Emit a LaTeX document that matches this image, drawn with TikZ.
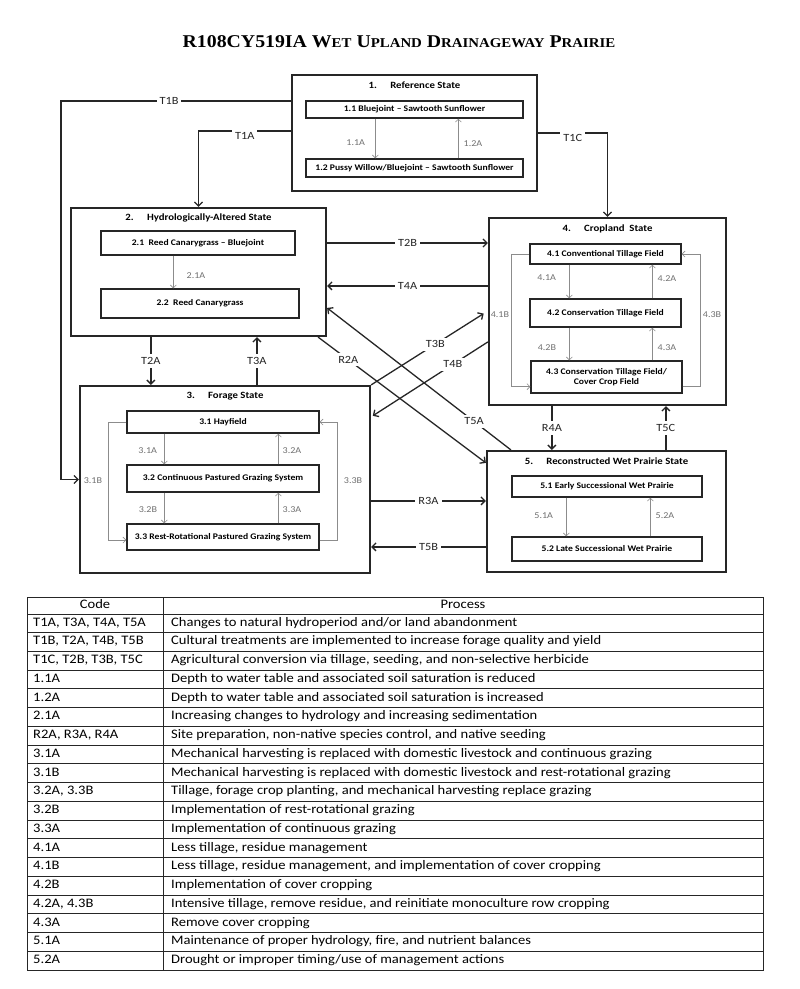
\documentclass[tikz,border=0pt]{standalone}
\usepackage{fontspec}
\setmainfont{Carlito}[FakeStretch=1.12]
\newfontfamily\titlefont{Liberation Serif}[FakeStretch=1.1]
\usetikzlibrary{arrows.meta,positioning,calc}
\definecolor{frame}{HTML}{262626}
\definecolor{thin}{HTML}{8C8C8C}
\definecolor{thintext}{HTML}{707070}
\newcommand{\fakesc}[1]{{\fontsize{13.5}{15}\selectfont #1}}
\tikzset{
  font=\fontsize{11}{13}\selectfont,
  statebox/.style={
    draw=frame,
    line width=2.2pt,
    inner sep=0pt
  },
  sub/.style={
    draw=frame,
    line width=1.3pt,
    align=center,
    inner sep=1pt,
    font=\fontsize{8.6}{10}\selectfont\bfseries
  },
  head/.style={
    inner sep=0pt,
    font=\fontsize{9.6}{11}\selectfont\bfseries
  },
  arrow/.style={-{Straight Barb[length=4pt,width=8pt]}, line width=1.3pt, draw=frame},
  inarrow/.style={-{Straight Barb[length=3pt,width=6pt]}, line width=0.6pt, draw=thin},
  tlabel/.style={fill=white, inner sep=3pt, text=frame},
  ilabel/.style={inner sep=1pt, font=\fontsize{9}{10}\selectfont, text=thintext},
  cell/.style={anchor=west, inner sep=0pt, text height=8.5pt, text depth=2.8pt, font=\fontsize{13}{15}\selectfont},
  tabline/.style={draw=frame, line width=1pt}
}

\begin{document}
\begin{tikzpicture}[x=1pt, y=-1pt]
\useasboundingbox (0,0) rectangle (800,989);

% --- Title
\node[font=\titlefont\bfseries\fontsize{18}{21}\selectfont] (title) at (399,42)
  {R108CY519IA W\fakesc{ET} U\fakesc{PLAND} D\fakesc{RAINAGEWAY} P\fakesc{RAIRIE}};

% --- State frames
\node[statebox, minimum width=245pt, minimum height=116pt] (ref) at (414.5,133) {};
\node[statebox, minimum width=255pt, minimum height=128pt] (hydro) at (198.5,272) {};
\node[statebox, minimum width=290pt, minimum height=187pt] (forage) at (225,479.5) {};
\node[statebox, minimum width=237pt, minimum height=187pt] (crop) at (607.5,311.5) {};
\node[statebox, minimum width=239pt, minimum height=121pt] (prairie) at (606.5,511.5) {};

\node[head] (reftitle) at ($(ref.north)+(0,11)$) {1.\hspace{10pt} Reference State};
\node[head] (hydrotitle) at ($(hydro.north)+(0,11)$) {2.\hspace{10pt} Hydrologically-Altered State};
\node[head] (foragetitle) at ($(forage.north)+(0,11)$) {3.\hspace{10pt} Forage State};
\node[head] (croptitle) at ($(crop.north)+(0,12)$) {4.\hspace{10pt} Cropland\ \ State};
\node[head] (prairietitle) at ($(prairie.north)+(0,11)$) {5.\hspace{10pt} Reconstructed Wet Prairie State};

% --- Community phases
\node[sub, minimum width=217pt, minimum height=17pt] (ref1) at (414.5,109.5) {1.1 Bluejoint -- Sawtooth Sunflower};
\node[sub, minimum width=217pt, minimum height=18pt] (ref2) at (414.5,168) {1.2 Pussy Willow/Bluejoint -- Sawtooth Sunflower};

\node[sub, minimum width=194pt, minimum height=24pt] (hydro1) at (198,243) {2.1\ \ Reed Canarygrass -- Bluejoint};
\node[sub, minimum width=198pt, minimum height=29pt] (hydro2) at (200,303.5) {2.2\ \ Reed Canarygrass};

\node[sub, minimum width=192pt, minimum height=22pt] (forage1) at (223,422) {3.1 Hayfield};
\node[sub, minimum width=192pt, minimum height=27pt] (forage2) at (223,478.5) {3.2 Continuous Pastured Grazing System};
\node[sub, minimum width=192pt, minimum height=26pt] (forage3) at (223,537) {3.3 Rest-Rotational Pastured Grazing System};

\node[sub, minimum width=151pt, minimum height=20pt] (crop1) at (605.5,254) {4.1 Conventional Tillage Field};
\node[sub, minimum width=151pt, minimum height=28pt] (crop2) at (605.5,313) {4.2 Conservation Tillage Field};
\node[sub, minimum width=151pt, minimum height=32pt] (crop3) at (606.5,377) {4.3 Conservation Tillage Field/\\Cover Crop Field};

\node[sub, minimum width=190pt, minimum height=21pt] (prairie1) at (607,486.5) {5.1 Early Successional Wet Prairie};
\node[sub, minimum width=190pt, minimum height=24pt] (prairie2) at (607,549) {5.2 Late Successional Wet Prairie};

% --- Transitions between states
\draw[arrow] ($(ref.north west)+(0,27)$) -- node[tlabel, pos=.53] {T1B} ++(-230,0) |- (forage.west);
\draw[arrow] ($(ref.north west)+(0,57)$) -| node[tlabel, pos=.25, yshift=-5pt] {T1A} (hydro.north);
\draw[arrow] (ref.east) -| node[tlabel, pos=.25, yshift=-5pt] {T1C} (crop.north);

\draw[arrow] (hydro.east |- hydro1) -- node[tlabel] {T2B} (crop.west |- hydro1);
\coordinate (t4a) at ($(crop.north west)+(0,69)$);
\draw[arrow] (t4a) -- node[tlabel] {T4A} (hydro.east |- t4a);

\coordinate (t2a) at ($(hydro.south west)+(81,0)$);
\draw[arrow] (t2a) -- node[tlabel] {T2A} (forage.north -| t2a);
\coordinate (t3a) at ($(forage.north west)+(178,0)$);
\draw[arrow] (t3a) -- node[tlabel] {T3A} (hydro.south -| t3a);

\draw[arrow, shorten >=5pt] (forage.north east) -- node[tlabel, pos=.55] {T3B} ($(crop.north west)+(0,94)$);
\draw[arrow, shorten >=2pt] ($(crop.north west)+(0,125)$) -- node[tlabel, pos=.3] {T4B} ($(forage.north east)+(0,32)$);
\draw[arrow] ($(hydro.south east)+(-9,0)$) -- node[tlabel, pos=.18] {R2A} ($(prairie.north west)+(0,13)$);
\draw[arrow] ($(prairie.north west)+(25,0)$) -- node[tlabel, pos=.2] {T5A} ($(hydro.north east)+(0,101)$);

\coordinate (r3a) at ($(forage.north east)+(0,116)$);
\draw[arrow] (r3a) -- node[tlabel] {R3A} (prairie.west |- r3a);
\coordinate (t5b) at ($(prairie.north west)+(0,97)$);
\draw[arrow] (t5b) -- node[tlabel] {T5B} (forage.east |- t5b);

\coordinate (r4a) at ($(crop.south west)+(64,0)$);
\draw[arrow] (r4a) -- node[tlabel] {R4A} (prairie.north -| r4a);
\coordinate (t5c) at ($(prairie.north west)+(180,0)$);
\draw[arrow] (t5c) -- node[tlabel] {T5C} (crop.south -| t5c);

% --- Community pathways
\coordinate (i11) at ($(ref1.south west)+(70,0)$);
\coordinate (i12) at ($(ref1.south west)+(153,0)$);
\draw[inarrow] (i11) -- node[ilabel, left=9pt, pos=.6] {1.1A} (ref2.north -| i11);
\draw[inarrow] (ref2.north -| i12) -- node[ilabel, right=4pt, pos=.37] {1.2A} (i12);

\coordinate (i21) at ($(hydro1.south west)+(73,0)$);
\draw[inarrow] (i21) -- node[ilabel, right=12pt, pos=.6] {2.1A} (hydro2.north -| i21);

\coordinate (i31) at ($(forage1.south west)+(38,0)$);
\coordinate (i32) at ($(forage1.south west)+(152,0)$);
\draw[inarrow] (i31) -- node[ilabel, left=6pt, pos=.55] {3.1A} (forage2.north -| i31);
\draw[inarrow] (forage2.north -| i32) -- node[ilabel, right=3pt, pos=.45] {3.2A} (i32);
\draw[inarrow] (forage2.south -| i31) -- node[ilabel, left=6pt, pos=.55] {3.2B} (forage3.north -| i31);
\draw[inarrow] (forage3.north -| i32) -- node[ilabel, right=3pt, pos=.45] {3.3A} (forage2.south -| i32);
\draw[inarrow] (forage1.west) -- ++(-18,0) |- node[ilabel, left=5pt, pos=.25] {3.1B} ($(forage3.west)+(0,3)$);
\draw[inarrow] ($(forage3.east)+(0,3)$) -- ++(18,0) |- node[ilabel, right=5pt, pos=.25] {3.3B} (forage1.east);

\coordinate (i41) at ($(crop1.south west)+(40,0)$);
\coordinate (i42) at ($(crop1.south west)+(123,0)$);
\draw[inarrow] (i41) -- node[ilabel, left=12pt, pos=.4] {4.1A} (crop2.north -| i41);
\draw[inarrow] (crop2.north -| i42) -- node[ilabel, right=4pt, pos=.6] {4.2A} (i42);
\draw[inarrow] (crop2.south -| i41) -- node[ilabel, left=12pt, pos=.6] {4.2B} (crop3.north -| i41);
\draw[inarrow] (crop3.north -| i42) -- node[ilabel, right=4pt, pos=.4] {4.3A} (crop2.south -| i42);
\draw[inarrow] (crop1.west) -- ++(-18,0) |- node[ilabel, left=1pt, pos=.23] {4.1B} ($(crop3.south west)+(0,-7)$);
\draw[inarrow] ($(crop3.south east)+(0,-7)$) -- ++(18,0) |- node[ilabel, right=1pt, pos=.27] {4.3B} (crop1.east);

\coordinate (i51) at ($(prairie1.south west)+(55,0)$);
\coordinate (i52) at ($(prairie1.south west)+(139,0)$);
\draw[inarrow] (i51) -- node[ilabel, left=12pt, pos=.47] {5.1A} (prairie2.north -| i51);
\draw[inarrow] (prairie2.north -| i52) -- node[ilabel, right=4pt, pos=.53] {5.2A} (i52);

% --- Legend table
\draw[tabline] (27,597) rectangle (763,970);
\draw[tabline] (163,597) -- (163,970);
\foreach \r in {0,...,18}
  \draw[tabline] (27,{614+18.74*\r}) -- (763,{614+18.74*\r});
\node[cell, anchor=center] (codehead) at (95,605.5) {Code};
\node[cell, anchor=center] (prochead) at (463,605.5) {Process};
\foreach \c/\p [count=\i] in {
  {T1A, T3A, T4A, T5A}/{Changes to natural hydroperiod and/or land abandonment},
  {T1B, T2A, T4B, T5B}/{Cultural treatments are implemented to increase forage quality and yield},
  {T1C, T2B, T3B, T5C}/{Agricultural conversion via tillage, seeding, and non-selective herbicide},
  {1.1A}/{Depth to water table and associated soil saturation is reduced},
  {1.2A}/{Depth to water table and associated soil saturation is increased},
  {2.1A}/{Increasing changes to hydrology and increasing sedimentation},
  {R2A, R3A, R4A}/{Site preparation, non-native species control, and native seeding},
  {3.1A}/{Mechanical harvesting is replaced with domestic livestock and continuous grazing},
  {3.1B}/{Mechanical harvesting is replaced with domestic livestock and rest-rotational grazing},
  {3.2A, 3.3B}/{Tillage, forage crop planting, and mechanical harvesting replace grazing},
  {3.2B}/{Implementation of rest-rotational grazing},
  {3.3A}/{Implementation of continuous grazing},
  {4.1A}/{Less tillage, residue management},
  {4.1B}/{Less tillage, residue management, and implementation of cover cropping},
  {4.2B}/{Implementation of cover cropping},
  {4.2A, 4.3B}/{Intensive tillage, remove residue, and reinitiate monoculture row cropping},
  {4.3A}/{Remove cover cropping},
  {5.1A}/{Maintenance of proper hydrology, fire, and nutrient balances},
  {5.2A}/{Drought or improper timing/use of management actions}} {
  \node[cell] (code\i) at (33,{614+18.74*(\i-0.5)}) {\c};
  \node[cell] (proc\i) at (171,{614+18.74*(\i-0.5)}) {\p};
}

\end{tikzpicture}
\end{document}
